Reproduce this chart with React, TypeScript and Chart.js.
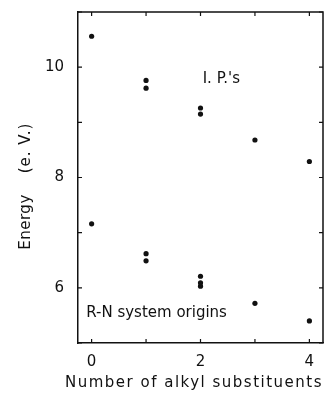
import React, { useEffect, useRef } from "react";
import { Chart, registerables } from "chart.js";

Chart.register(...registerables);

const ipSubstituents = [0, 1, 1, 2, 2, 3, 4];
const ipEnergies = [10.56, 9.76, 9.62, 9.26, 9.15, 8.68, 8.29];
const rnSubstituents = [0, 1, 1, 2, 2, 2, 3, 4];
const rnEnergies = [7.16, 6.62, 6.49, 6.21, 6.09, 6.03, 5.72, 5.4];
const yTickLabels = [6, 8, 10];
const xTickLabels = [0, 2, 4];
const ipLabel = "I. P.'s";
const rnLabel = "R-N system origins";
const xTitle = "Number of alkyl substituents";
const yTitleWord = "Energy";
const yTitleUnit = "(e. V.)";

const FONT = "'DejaVu Sans', sans-serif";

const framePlugin = {
  id: "frame",
  afterDraw(chart: any) {
    const { ctx, chartArea, scales } = chart;
    const { left, right, top, bottom } = chartArea;
    const xs = scales.x;
    const ys = scales.y;
    ctx.save();
    ctx.strokeStyle = "#111";
    ctx.lineWidth = 1.5;
    ctx.beginPath();
    ctx.moveTo(left, top);
    ctx.lineTo(right, top);
    ctx.lineTo(right, bottom);
    ctx.stroke();
    ctx.lineWidth = 1.2;
    const len = 4;
    for (let v = Math.ceil(ys.min); v <= ys.max; v++) {
      const py = ys.getPixelForValue(v);
      ctx.beginPath();
      ctx.moveTo(left, py);
      ctx.lineTo(left + len, py);
      ctx.moveTo(right, py);
      ctx.lineTo(right - len, py);
      ctx.stroke();
    }
    for (let v = Math.ceil(xs.min); v <= xs.max; v++) {
      const px = xs.getPixelForValue(v);
      ctx.beginPath();
      ctx.moveTo(px, top);
      ctx.lineTo(px, top + len);
      ctx.moveTo(px, bottom);
      ctx.lineTo(px, bottom - len);
      ctx.stroke();
    }
    ctx.fillStyle = "#111";
    ctx.font = `15px ${FONT}`;
    ctx.textBaseline = "middle";
    ctx.textAlign = "left";
    ctx.fillText(ipLabel, xs.getPixelForValue(2.04), ys.getPixelForValue(9.78));
    ctx.fillText(rnLabel, xs.getPixelForValue(-0.1), ys.getPixelForValue(5.55));

    // axis titles
    (ctx as any).letterSpacing = "1.5px";
    ctx.textAlign = "center";
    ctx.fillText(xTitle, 194, 383);
    ctx.save();
    ctx.translate(26, 0);
    ctx.rotate(-Math.PI / 2);
    (ctx as any).letterSpacing = "0.5px";
    ctx.fillText(yTitleWord, -222, 0);
    (ctx as any).letterSpacing = "1px";
    ctx.fillText(yTitleUnit, -148, 0);
    ctx.restore();
    ctx.restore();
  },
};

export default function App() {
  const ref = useRef<HTMLCanvasElement>(null);
  useEffect(() => {
    document.body.style.margin = "0";
    const canvas = ref.current!;
    const chart = new Chart(canvas, {
      type: "scatter",
      data: {
        datasets: [
          {
            label: ipLabel,
            data: ipSubstituents.map((x, i) => ({ x, y: ipEnergies[i] })),
            backgroundColor: "#111",
            borderColor: "#111",
            pointRadius: 2.6,
            pointBorderWidth: 0,
          },
          {
            label: rnLabel,
            data: rnSubstituents.map((x, i) => ({ x, y: rnEnergies[i] })),
            backgroundColor: "#111",
            borderColor: "#111",
            pointRadius: 2.6,
            pointBorderWidth: 0,
          },
        ],
      },
      options: {
        responsive: false,
        devicePixelRatio: 1,
        animation: false,
        layout: { autoPadding: false, padding: { top: 12, right: 1, left: 0, bottom: 0 } },
        plugins: { legend: { display: false }, tooltip: { enabled: false } },
        scales: {
          x: {
            type: "linear",
            min: -0.25,
            max: 4.25,
            afterFit: (s: any) => {
              s.height = 51;
              s.paddingLeft = 0;
              s.paddingRight = 0;
              s.paddingTop = 0;
              s.paddingBottom = 0;
            },
            grid: { display: false, drawTicks: false },
            border: { display: true, color: "#111", width: 1.5 },
            ticks: {
              stepSize: 1,
              includeBounds: false,
              padding: 10,
              color: "#111",
              font: { family: FONT, size: 15 },
              autoSkip: false,
              maxRotation: 0,
              callback: (v: any) => (xTickLabels.includes(Number(v)) ? String(v) : ""),
            },
          },
          y: {
            type: "linear",
            min: 5,
            max: 11,
            afterFit: (s: any) => {
              s.width = 78;
              s.paddingTop = 0;
              s.paddingBottom = 0;
              s.paddingLeft = 0;
              s.paddingRight = 0;
            },
            grid: { display: false, drawTicks: false },
            border: { display: true, color: "#111", width: 1.5 },
            ticks: {
              stepSize: 1,
              includeBounds: false,
              padding: 14,
              color: "#111",
              font: { family: FONT, size: 15 },
              autoSkip: false,
              callback: (v: any) => (yTickLabels.includes(Number(v)) ? String(v) : ""),
            },
          },
        },
      },
      plugins: [framePlugin],
    });
    return () => chart.destroy();
  }, []);
  return (
    <div style={{ width: 324, height: 394 }}>
      <canvas ref={ref} width={324} height={394} style={{ display: "block" }} />
    </div>
  );
}
